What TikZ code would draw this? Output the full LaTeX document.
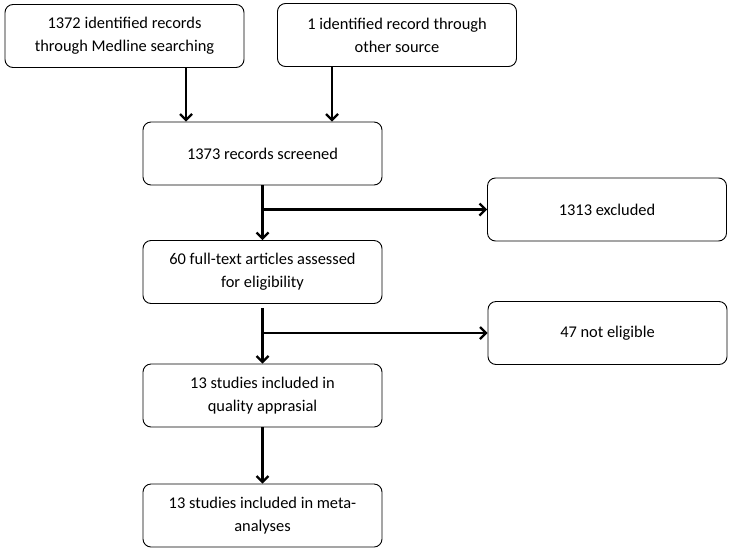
\documentclass[tikz,border=0pt]{standalone}
\usepackage{fontspec}
\setmainfont{Carlito}
\usetikzlibrary{arrows.meta}
\begin{document}
\begin{tikzpicture}[
       x=1pt, y=-1pt,
       box/.style={rectangle, draw=black, line width=0.9pt, minimum width=239pt, minimum height=63pt, align=center, rounded corners=8pt, font=\fontsize{16.4}{23}\selectfont},
       arrow/.style={-{Straight Barb[length=6pt,width=12pt]}, line width=2.2pt, black}
   ]
   \useasboundingbox (0,0) rectangle (733,555);
   \node[box] (medline) at (124.5,36) {1372 identified records\\through Medline searching};
   \node[box] (other) at (397,35) {1 identified record through\\other source};
   \node[box] (screened) at (262.5,153.5) {1373 records screened};
   \node[box] (excluded) at (607,209.5) {1313 excluded};
   \node[box] (fulltext) at (262.5,272) {60 full-text articles assessed\\for eligibility};
   \node[box] (noteligible) at (607.5,333) {47 not eligible};
   \node[box] (quality) at (262.5,395.5) {13 studies included in\\quality apprasial};
   \node[box] (meta) at (262.5,515.5) {13 studies included in meta-\\analyses};

   \draw[arrow] ([xshift=61.5pt]medline.south) -- ([xshift=61.5pt]medline.south |- screened.north);
   \draw[arrow] ([xshift=-65pt]other.south) -- ([xshift=-65pt]other.south |- screened.north);
   \draw[arrow] (screened) -- (fulltext);
   \draw[arrow] (screened.south |- excluded.west) -- (excluded.west);
   \draw[arrow, shorten <=4pt] (fulltext) -- (quality);
   \draw[arrow] (fulltext.south |- noteligible.west) -- (noteligible.west);
   \draw[arrow] (quality) -- (meta);
   \end{tikzpicture}
\end{document}
